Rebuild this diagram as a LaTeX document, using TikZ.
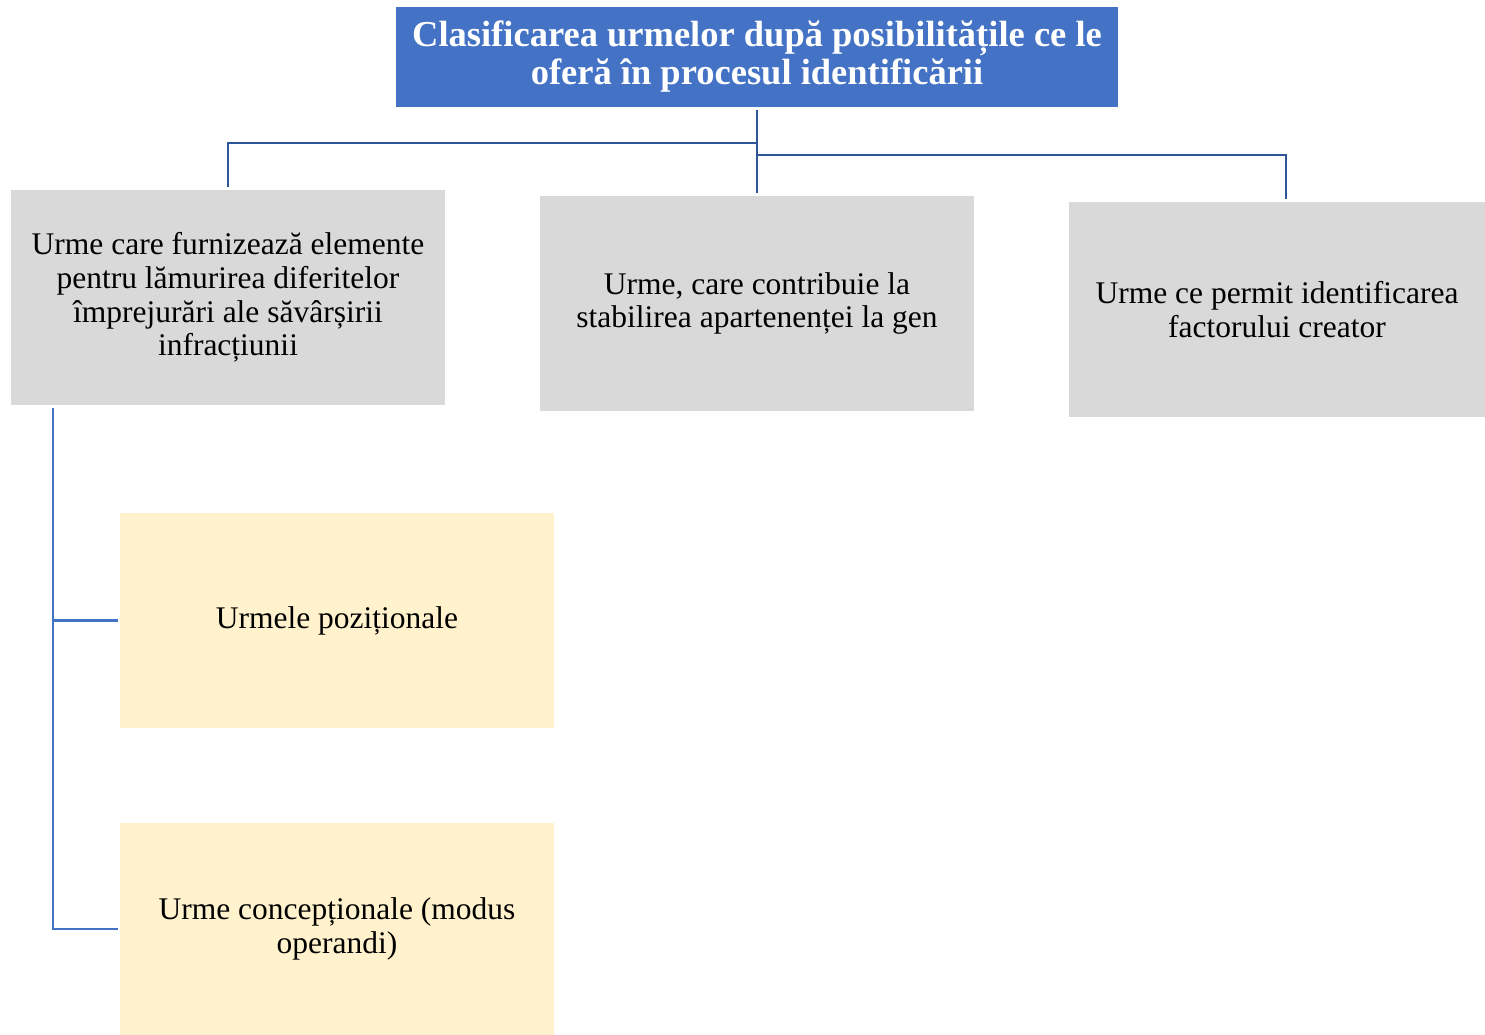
\documentclass[tikz,border=0pt]{standalone}
\usepackage{fontspec}
\setmainfont{Liberation Serif}
\usetikzlibrary{calc}
\definecolor{hdrblue}{HTML}{4472C4}
\definecolor{linedark}{HTML}{2F5597}
\definecolor{boxgray}{HTML}{D9D9D9}
\definecolor{boxyellow}{HTML}{FFF2CC}
\begin{document}
\begin{tikzpicture}[x=1pt,y=-1pt,
  every node/.style={inner sep=0pt, outer sep=0pt},
  hdr/.style={rectangle, fill=hdrblue, text=white, align=center,
    font=\fontsize{36.5}{38}\selectfont\bfseries, minimum width=722pt, minimum height=100pt},
  graybox/.style={rectangle, fill=boxgray, align=center,
    font=\fontsize{31.5}{33.7}\selectfont, minimum width=434pt, minimum height=215pt},
  yelbox/.style={rectangle, fill=boxyellow, align=center,
    font=\fontsize{31.5}{33.7}\selectfont, minimum width=434pt, minimum height=215pt},
  conn/.style={draw=linedark, line width=2.4pt},
  conn2/.style={draw=hdrblue, line width=2.4pt}]
\useasboundingbox (0,0) rectangle (1485,1035);
\node[hdr] (top) at (757,57) {Clasificarea urmelor după posibilitățile ce le\\ oferă în procesul identificării};
\node[graybox] (b1) at (228,297.5) {Urme care furnizează elemente\\ pentru lămurirea diferitelor\\ împrejurări ale săvârșirii\\ infracțiunii};
\node[graybox] (b2) at (757,303.5) {Urme, care contribuie la\\ stabilirea apartenenței la gen};
\node[graybox, minimum width=416pt] (b3) at (1277,309.5) {Urme ce permit identificarea\\ factorului creator};
\node[yelbox] (y1) at (337,620.5) {Urmele poziționale};
\node[yelbox, minimum height=212pt] (y2) at (337,929) {Urme concepționale (modus\\ operandi)};
\coordinate (b3top) at ($(b3.north)+(9,0)$);
\draw[conn, shorten <=3pt, shorten >=3pt] (top.south) -- (b2.north);
\draw[conn, shorten <=3pt, shorten >=3pt] (top.south) -- ++(0,36) -| (b1.north);
\draw[conn, shorten <=3pt, shorten >=3pt] (top.south) -- ++(0,48) -| (b3top);
\coordinate (trunk) at ($(b1.south west)+(42,3)$);
\draw[conn2, shorten >=2pt] (trunk) |- (y1.west);
\draw[conn2, shorten >=2pt] (trunk) |- (y2.west);
\end{tikzpicture}
\end{document}
